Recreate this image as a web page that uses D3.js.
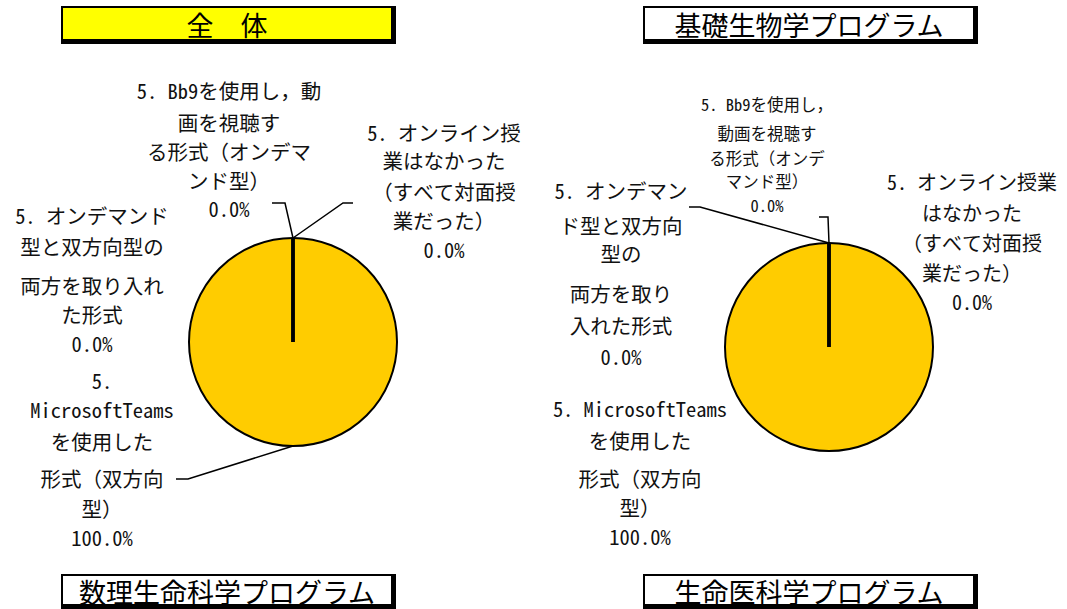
<!DOCTYPE html>
<html><head><meta charset="utf-8">
<script src="https://cdn.jsdelivr.net/npm/d3@7"></script>
<style>
html,body{margin:0;padding:0;background:#fff;}
svg{display:block;}
.lbl{font-family:"Noto Sans Mono CJK JP","Noto Sans CJK JP",sans-serif;fill:#111;}
.ttl{font-family:"Noto Sans CJK JP",sans-serif;fill:#000;}
</style></head>
<body>
<svg id="c" width="1067" height="609"></svg>
<script>
// ---- data ----
const categories = [
  "5. MicrosoftTeamsを使用した形式（双方向型）",
  "5. Bb9を使用し，動画を視聴する形式（オンデマンド型）",
  "5. オンデマンド型と双方向型の両方を取り入れた形式",
  "5. オンライン授業はなかった（すべて対面授業だった）"
];
const valuesAll = [100, 0, 0, 0];
const valuesBasicBiology = [100, 0, 0, 0];
const chartTitles = ["全　体", "基礎生物学プログラム"];
const bottomTitles = ["数理生命科学プログラム", "生命医科学プログラム"];
// label line breaks (text wrapping as shown in each chart)
const wrapAll = [
  ["5.", "MicrosoftTeams", "を使用した", "形式（双方向", "型）"],
  ["5. Bb9を使用し，動", "画を視聴す", "る形式（オンデマ", "ンド型）"],
  ["5. オンデマンド", "型と双方向型の", "両方を取り入れ", "た形式"],
  ["5. オンライン授", "業はなかった", "（すべて対面授", "業だった）"]
];
const wrapBasicBiology = [
  ["5. MicrosoftTeams", "を使用した", "形式（双方向", "型）"],
  ["5. Bb9を使用し，", "動画を視聴す", "る形式（オンデ", "マンド型）"],
  ["5. オンデマン", "ド型と双方向", "型の", "両方を取り", "入れた形式"],
  ["5. オンライン授業", "はなかった", "（すべて対面授", "業だった）"]
];

// ---- layout ----
const svg = d3.select("#c");
const fmt = d3.format(".1%");
const pie = d3.pie().sort(null).value(d => d).startAngle(0).endAngle(2 * Math.PI);

const charts = [
  { values: valuesAll, wrap: wrapAll, title: chartTitles[0], titleFill: "#FFFF00",
    box: [61, 6, 396, 44], cx: 293, cy: 342, r: 104,
    labels: [
      { x: 102, ys: [380, 409, 441, 478, 508, 537], fs: 20.5, leader: [[188, 479], [176, 479]] },
      { x: 229, ys: [90, 122, 151, 180, 208], fs: 20.5, leader: [[285, 203], [272, 203]] },
      { x: 92, ys: [215, 246, 285, 314, 343], fs: 20.5, leader: null },
      { x: 444, ys: [132, 160, 191, 220, 249], fs: 20.5, leader: [[343, 203], [353, 203]] }
    ] },
  { values: valuesBasicBiology, wrap: wrapBasicBiology, title: chartTitles[1], titleFill: "#FFFFFF",
    box: [643, 6, 978, 44], cx: 829, cy: 347, r: 104,
    labels: [
      { x: 640, ys: [408, 440, 478, 507, 536], fs: 20.5, leader: null },
      { x: 767, ys: [104, 133, 158, 181, 205], fs: 16.5, leader: [[828, 217], [819, 217]] },
      { x: 621, ys: [190, 225, 253, 293, 325, 356], fs: 20.5, leader: [[700, 207], [689, 207]] },
      { x: 972, ys: [181, 212, 242, 272, 301], fs: 20, leader: null }
    ] }
];

function drawBox(b, fill, text) {
  const [x0, y0, x1, y1] = b;
  svg.append("rect").attr("x", x0).attr("y", y0).attr("width", x1 - x0).attr("height", y1 - y0).attr("fill", "#000");
  svg.append("rect").attr("x", x0 + 2).attr("y", y0 + 2).attr("width", x1 - x0 - 7).attr("height", y1 - y0 - 7).attr("fill", fill);
  svg.append("text").attr("class", "ttl").attr("x", (x0 + 2 + x1 - 5) / 2).attr("y", (y0 + y1 - 3) / 2 + 1)
    .attr("text-anchor", "middle").attr("dominant-baseline", "central")
    .attr("font-size", 27).text(text);
}

charts.forEach(ch => {
  drawBox(ch.box, ch.titleFill, ch.title);
  const total = d3.sum(ch.values);
  const arcs = pie(ch.values);
  const arc = d3.arc().innerRadius(0).outerRadius(ch.r);
  const g = svg.append("g").attr("transform", `translate(${ch.cx},${ch.cy})`);
  g.selectAll("path.slice").data(arcs).join("path").attr("class", "slice")
    .attr("d", arc).attr("fill", "#FFCC00").attr("stroke", "#000").attr("stroke-width", 2);
  // radial boundary lines at slice edges
  arcs.forEach(a => {
    const ang = a.startAngle;
    g.append("line").attr("x1", 0).attr("y1", 0)
      .attr("x2", ch.r * Math.sin(ang)).attr("y2", -ch.r * Math.cos(ang))
      .attr("stroke", "#000").attr("stroke-width", 3);
  });
  arcs.forEach((a, i) => {
    const L = ch.labels[i];
    const mid = (a.startAngle + a.endAngle) / 2;
    const ax = ch.cx + ch.r * Math.sin(mid), ay = ch.cy - ch.r * Math.cos(mid);
    if (L.leader) {
      const pts = [[ax, ay]].concat(L.leader);
      svg.append("path").attr("d", d3.line()(pts)).attr("fill", "none").attr("stroke", "#000").attr("stroke-width", 1.5);
    }
    const lines = ch.wrap[i].concat([fmt(a.value / total)]);
    const t = svg.append("text").attr("class", "lbl").attr("text-anchor", "middle").attr("font-size", L.fs);
    lines.forEach((s, k) => {
      t.append("tspan").attr("x", L.x).attr("y", L.ys[k]).attr("dominant-baseline", "central").text(s);
    });
  });
});

drawBox([61, 574, 396, 609], "#FFFFFF", bottomTitles[0]);
drawBox([643, 574, 978, 609], "#FFFFFF", bottomTitles[1]);
</script>
</body></html>
